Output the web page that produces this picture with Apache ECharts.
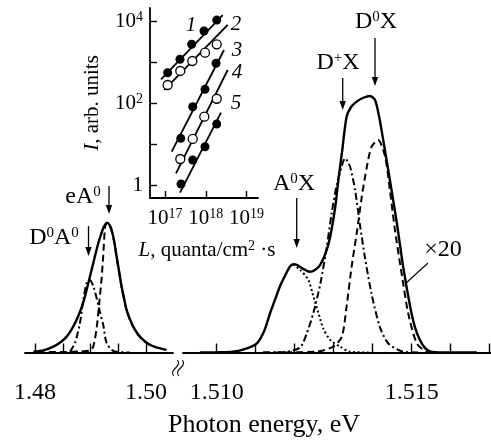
<!DOCTYPE html>
<html><head><meta charset="utf-8">
<script src="https://cdn.jsdelivr.net/npm/echarts@6/dist/echarts.min.js"></script>
<style>html,body{margin:0;padding:0;background:#fff}#c{width:491px;height:441px}</style>
</head><body><div id="c"></div>
<script>
// ---------- main spectrum data: [photon energy eV, intensity (right peak = 100)] ----------
const leftSolid = [[1.4797,0.3],[1.4815,0.8],[1.4833,2.3],[1.4846,4.0],[1.4857,6.2],[1.4866,9.0],[1.4875,12.8],[1.4883,17.0],[1.4890,21.8],[1.4896,27.0],[1.4902,32.2],[1.4908,37.5],[1.4914,42.6],[1.4919,46.0],[1.4923,48.5],[1.4927,50.0],[1.4930,50.6],[1.4934,49.8],[1.4938,47.8],[1.4943,43.0],[1.4947,37.4],[1.4952,31.0],[1.4956,25.7],[1.4961,20.5],[1.4965,16.6],[1.4971,13.0],[1.4977,10.1],[1.4986,7.0],[1.4995,4.9],[1.5007,3.0],[1.5019,2.0],[1.5037,1.0]];
const leftDashed = [[1.4805,0.2],[1.4845,0.2],[1.4880,0.4],[1.4899,0.8],[1.4905,2.3],[1.4911,9.4],[1.4916,19.8],[1.4920,28.9],[1.4923,38.0],[1.4926,48.4],[1.4929,50.4],[1.4934,49.5],[1.4938,47.5],[1.4943,42.8],[1.4947,37.2],[1.4952,30.8],[1.4956,25.5],[1.4961,20.3],[1.4965,16.4],[1.4971,12.8],[1.4977,9.9],[1.4986,6.8],[1.4995,4.7],[1.5007,2.9],[1.5019,1.9]];
const leftDashDot = [[1.4863,0.3],[1.4872,3.7],[1.4881,11.5],[1.4887,20.5],[1.4893,27.1],[1.4899,28.3],[1.4905,25.9],[1.4911,21.2],[1.4917,15.8],[1.4923,10.7],[1.4929,3.7],[1.4941,0.6],[1.4971,0]];
const rightSolid = [[1.50957,0],[1.5100,0.1],[1.51042,0.3],[1.51075,1.5],[1.51103,3.6],[1.51122,8.5],[1.51137,15.4],[1.51150,20.8],[1.51162,25.7],[1.51176,30.2],[1.51188,33.5],[1.51196,34.4],[1.51205,34.2],[1.51222,32.6],[1.51239,31.5],[1.51252,32.2],[1.51265,34.1],[1.51280,39.0],[1.51291,45.1],[1.51304,56.8],[1.51312,67.3],[1.51321,77.7],[1.51333,91.9],[1.51345,95.8],[1.51359,97.8],[1.51376,99.3],[1.51393,100],[1.51406,98.4],[1.51417,91.5],[1.51427,82.8],[1.51444,67.3],[1.51462,50.4],[1.51478,33.5],[1.51496,17.9],[1.51508,10.0],[1.51521,4.9],[1.51534,1.8],[1.51547,0.4],[1.51580,0],[1.51667,0]];
const rightDashed = [[1.51119,0],[1.51256,0.3],[1.51299,2.3],[1.51321,6.2],[1.51333,17.9],[1.51346,33.5],[1.51359,46.5],[1.51372,60.7],[1.51385,72.4],[1.51397,80.2],[1.51414,82.8],[1.51432,76.3],[1.51444,63.4],[1.51457,47.8],[1.51474,30.9],[1.51491,15.3],[1.51513,3.6],[1.51538,0.3],[1.51564,0]];
const rightDashDot = [[1.51119,0],[1.51180,0.3],[1.51214,2.0],[1.51231,7.5],[1.51248,15.5],[1.51266,27.0],[1.51282,41.0],[1.51295,54.5],[1.51308,65.5],[1.51321,72.8],[1.51329,75.7],[1.51342,72.4],[1.51355,63.1],[1.51367,50.1],[1.51380,37.1],[1.51397,22.9],[1.51418,10.1],[1.51440,3.5],[1.51478,0.3],[1.51521,0]];
const rightDotted = [[1.51196,34.4],[1.51214,32.2],[1.51235,28.3],[1.51248,21.8],[1.51261,15.3],[1.51273,9.4],[1.51291,4.9],[1.51316,2.3],[1.51342,0.3],[1.51393,0]];

// ---------- main axis ticks ----------
const leftTicks = [1.48, 1.485, 1.49, 1.495, 1.50];
const leftLabels = [1.48, 1.50];
const rightTicks = [1.510, 1.511, 1.512, 1.513, 1.514, 1.515, 1.516, 1.517];
const rightLabels = [1.510, 1.515];

// ---------- inset data: [L quanta/cm^2 s, I arb. units] ----------
const inset1 = [[1.16e17,570],[2.33e17,1210],[4.51e17,2810],[9.04e17,5930],[1.85e18,10960]];
const inset2 = [[1.16e17,286],[2.37e17,628],[4.67e17,1099],[9.55e17,1754],[1.85e18,2812]];
const inset3 = [[2.43e17,14.3],[4.78e17,84.5],[9.55e17,224],[1.78e18,966]];
const inset4 = [[2.37e17,4.48],[4.78e17,13.8],[9.18e17,48.2],[1.85e18,132]];
const inset5 = [[2.47e17,1.10],[4.78e17,4.24],[9.55e17,8.93],[1.85e18,32.0]];
const fit1 = [[7.98e16,394],[2.59e18,14550]];
const fit2 = [[9.6e16,216],[3.44e18,8310]];
const fit3 = [[1.46e17,6.75],[2.79e18,2042]];
const fit4 = [[1.86e17,2.0],[3.44e18,664]];
const fit5 = [[2.33e17,0.675],[2.36e18,60.3]];
const insetXTicks = [1e17, 1e18, 1e19];
const insetYTicks = [1, 10, 100, 1000, 10000];
const insetYLabels = [1, 100, 10000];

const FONT = 'Liberation Serif';
const chart = echarts.init(document.getElementById('c'), null, {renderer: 'canvas'});

const yMin = -6.04, yMax = 133.5;
const mainAxisCommon = {
  axisLine: {lineStyle: {color: '#000', width: 1.8}},
  axisTick: {inside: true, length: 9, lineStyle: {color: '#000', width: 1.4}},
  splitLine: {show: false},
  axisLabel: {color: '#000', fontFamily: FONT, fontSize: 24, margin: 13}
};
function sup(n){ return '{s|' + n + '}'; }
const richMain = {
  b: {fontFamily: FONT, fontSize: 24, color: '#000', lineHeight: 26},
  s: {fontFamily: FONT, fontSize: 15, color: '#000', lineHeight: 26, padding: [0,0,10,0]}
};
const richInset = {
  b: {fontFamily: FONT, fontSize: 21, color: '#000', lineHeight: 22},
  i: {fontFamily: FONT, fontSize: 21, color: '#000', fontStyle: 'italic', lineHeight: 22},
  s: {fontFamily: FONT, fontSize: 14, color: '#000', lineHeight: 22, padding: [0,0,8,0]}
};

function txt(x, y, text, rich, extra) {
  return Object.assign({type: 'text', x: x, y: y, z: 20,
    style: {text: text, rich: rich, align: 'center', verticalAlign: 'middle', fill: '#000', fontFamily: FONT}}, extra || {});
}
function arrow(x, y1, y2) {
  return [
    {type: 'line', z: 20, shape: {x1: x, y1: y1, x2: x, y2: y2 - 6}, style: {stroke: '#000', lineWidth: 1.3}},
    {type: 'polygon', z: 20, shape: {points: [[x - 3.2, y2 - 9], [x + 3.2, y2 - 9], [x, y2]]}, style: {fill: '#000'}}
  ];
}
function italicTxt(x, y, t) {
  return {type: 'text', x: x, y: y, z: 20, style: {text: t, fontFamily: FONT, fontSize: 21, fontStyle: 'italic', fill: '#000', align: 'center', verticalAlign: 'middle'}};
}

const graphics = [].concat(
  [txt(376, 22, '{b|D}' + sup(0) + '{b|X}', richMain)], arrow(375, 38, 86),
  [txt(338, 63, '{b|D}' + sup('+') + '{b|X}', richMain)], arrow(342.7, 78, 110),
  [txt(294, 184, '{b|A}' + sup(0) + '{b|X}', richMain)], arrow(296.7, 198, 248),
  [txt(443, 250, '{b|×20}', richMain)],
  [{type: 'line', z: 20, shape: {x1: 428, y1: 263, x2: 405, y2: 284}, style: {stroke: '#000', lineWidth: 1.1}}],
  [txt(83, 197, '{b|eA}' + sup(0), richMain)], arrow(109, 186, 214),
  [txt(54, 238, '{b|D}' + sup(0) + '{b|A}' + sup(0), richMain)], arrow(88.5, 226, 256),
  [txt(264, 425, '{t|Photon energy, eV}', {t: {fontFamily: FONT, fontSize: 26, color: '#000'}})],
  [txt(207, 250, '{i|L}{b|, quanta/cm}{s|2}{b| ·s}', richInset)],
  [txt(92, 103, '{i|I}{b|, arb. units}', richInset, {rotation: Math.PI / 2})],
  [italicTxt(191, 25, '1'), italicTxt(236, 24, '2'), italicTxt(237, 50, '3'), italicTxt(237, 72, '4'), italicTxt(236, 103, '5')],
  [
    {type: 'bezierCurve', z: 20, shape: {x1: 173.5, y1: 376, x2: 177.5, y2: 360, cpx1: 169, cpy1: 368, cpx2: 182, cpy2: 368}, style: {stroke: '#000', lineWidth: 1.1, fill: null}},
    {type: 'bezierCurve', z: 20, shape: {x1: 178.5, y1: 376, x2: 182.5, y2: 360, cpx1: 174, cpy1: 368, cpx2: 187, cpy2: 368}, style: {stroke: '#000', lineWidth: 1.1, fill: null}}
  ]
);

function curve(data, xi, type, w) {
  return {type: 'line', xAxisIndex: xi, yAxisIndex: xi, data: data, showSymbol: false, smooth: 0.25,
    lineStyle: {color: '#000', width: w || 2, type: type}, silent: true, animation: false};
}
function fitLine(data) {
  return {type: 'line', xAxisIndex: 2, yAxisIndex: 2, data: data, showSymbol: false,
    lineStyle: {color: '#000', width: 1.8}, silent: true, animation: false, z: 5};
}
function dots(data, open) {
  return {type: 'scatter', xAxisIndex: 2, yAxisIndex: 2, data: data, symbolSize: 9, z: 6, animation: false,
    itemStyle: open ? {color: '#fff', borderColor: '#000', borderWidth: 1.3, opacity: 1} : {color: '#000', opacity: 1}};
}
const dashT = [7, 4], dashDotT = [7, 3, 2, 3], dotT = [2, 2.5];

function supLabel(v) {
  const e = Math.round(Math.log10(v));
  if (e === 0) return '{b|1}';
  return '{b|10}{s|' + e + '}';
}

const option = {
  animation: false,
  backgroundColor: '#fff',
  grid: [
    {left: 25, width: 148, top: 10, bottom: 73},
    {left: 183, right: 0, top: 10, bottom: 73},
    {left: 150, width: 108, top: 8, height: 190}
  ],
  xAxis: [
    Object.assign({}, mainAxisCommon, {type: 'value', gridIndex: 0, min: 1.478198, max: 1.504865,
      axisTick: Object.assign({}, mainAxisCommon.axisTick, {customValues: leftTicks}),
      axisLabel: Object.assign({}, mainAxisCommon.axisLabel, {customValues: leftLabels, formatter: v => v.toFixed(2)})}),
    Object.assign({}, mainAxisCommon, {type: 'value', gridIndex: 1, min: 1.509136, max: 1.517033,
      axisTick: Object.assign({}, mainAxisCommon.axisTick, {customValues: rightTicks}),
      axisLabel: Object.assign({}, mainAxisCommon.axisLabel, {customValues: rightLabels, formatter: v => v.toFixed(3)})}),
    {type: 'log', logBase: 10, gridIndex: 2, min: 4.29e16, max: 1.90e19,
      axisLine: {lineStyle: {color: '#000', width: 1.8}},
      axisTick: {inside: true, length: 7, customValues: insetXTicks, lineStyle: {color: '#000', width: 1.4}},
      splitLine: {show: false}, minorTick: {show: false},
      axisLabel: {customValues: insetXTicks, formatter: supLabel, rich: richInset, margin: 9}}
  ],
  yAxis: [
    {type: 'value', gridIndex: 0, min: yMin, max: yMax, show: false},
    {type: 'value', gridIndex: 1, min: yMin, max: yMax, show: false},
    {type: 'log', logBase: 10, gridIndex: 2, min: 0.501, max: 21580,
      axisLine: {show: true, lineStyle: {color: '#000', width: 1.8}},
      axisTick: {show: true, inside: true, length: 7, customValues: insetYTicks, lineStyle: {color: '#000', width: 1.4}},
      splitLine: {show: false}, minorTick: {show: false},
      axisLabel: {customValues: insetYLabels, formatter: supLabel, rich: richInset, margin: 7}}
  ],
  graphic: graphics,
  series: [
    curve(leftSolid, 0, 'solid', 2.4),
    curve(leftDashed, 0, dashT),
    curve(leftDashDot, 0, dashDotT),
    curve(rightSolid, 1, 'solid', 2.4),
    curve(rightDashed, 1, dashT),
    curve(rightDashDot, 1, dashDotT),
    curve(rightDotted, 1, dotT),
    fitLine(fit1), fitLine(fit2), fitLine(fit3), fitLine(fit4), fitLine(fit5),
    dots(inset1, false), dots(inset2, true), dots(inset3, false), dots(inset4, true), dots(inset5, false)
  ]
};
chart.setOption(option);
</script></body></html>
